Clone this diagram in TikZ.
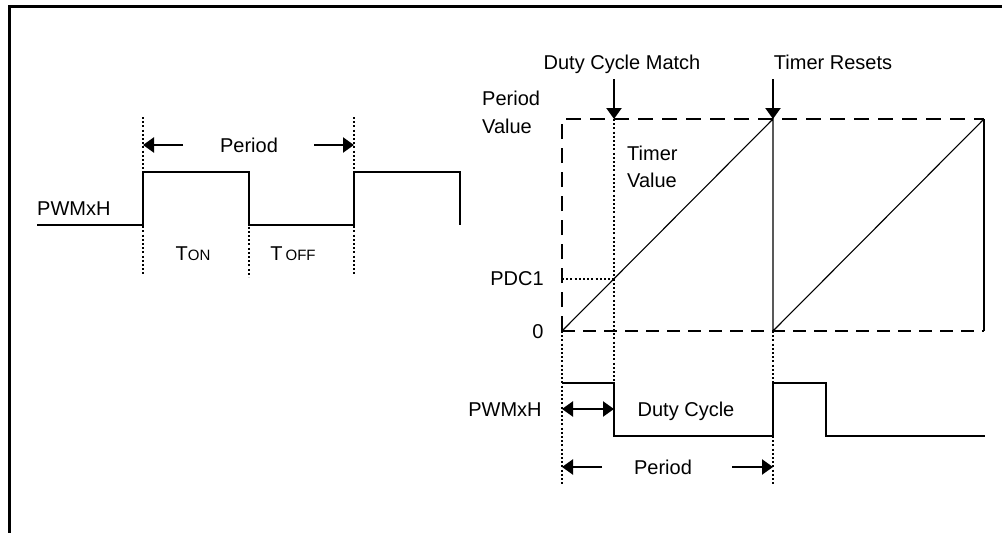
\documentclass[tikz,border=0pt]{standalone}
\usepackage{fontspec}
\setmainfont{Liberation Sans}
\usetikzlibrary{arrows.meta}
\tikzset{
  lbl/.style={font=\fontsize{20}{24}\selectfont, inner sep=0pt, text height=14.5pt, text depth=0pt},
  wave/.style={line width=2.3pt},
  ramp/.style={line width=1.1pt},
  dotline/.style={line width=2.2pt, dash pattern=on 2pt off 2.2pt},
  dashthick/.style={line width=2.4pt, dash pattern=on 15pt off 9pt},
  dashthin/.style={line width=1.5pt, dash pattern=on 13pt off 8pt},
  tipline/.style={line width=2.2pt, -{Triangle[length=11pt,width=15pt]}},
  bothtip/.style={line width=2.2pt, {Triangle[length=11pt,width=15pt]}-{Triangle[length=11pt,width=15pt]}},
}
\begin{document}
\begin{tikzpicture}[x=1pt,y=-1pt]
\useasboundingbox (0,0) rectangle (1002,533);
% frame
\draw[line width=3pt] (1002,6) -- (9,6) -- (9,533);

% ---------- left waveform ----------
\coordinate (a0) at (37,225);
\coordinate (a1) at (143,225);
\coordinate (a2) at (143,172);
\coordinate (a3) at (249,172);
\coordinate (a4) at (249,225);
\coordinate (a5) at (354,225);
\coordinate (a6) at (354,172);
\coordinate (a7) at (460,172);
\coordinate (a8) at (460,225);
\draw[wave] (a0) -- (a1) -- (a2) -- (a3) -- (a4) -- (a5) -- (a6) -- (a7) -- (a8);

\coordinate (d1t) at (143,117); \coordinate (d1b) at (143,276);
\coordinate (d2b) at (249,277);
\coordinate (d3t) at (354,117); \coordinate (d3b) at (354,276);
\draw[dotline] (d1t) -- (d1b);
\draw[dotline] (a3) -- (d2b);
\draw[dotline] (d3t) -- (d3b);

\node[lbl] (perL) at (249,145) {Period};
\coordinate (pl1) at (183,145); \coordinate (pl0) at (143,145);
\coordinate (pr1) at (314,145); \coordinate (pr0) at (354,145);
\draw[tipline] (pl1) -- (pl0);
\draw[tipline] (pr1) -- (pr0);

\node[lbl, anchor=west] (pwmL) at (37,208) {PWMxH};
\node[lbl] (ton) at (193,253) {T{\fontsize{15}{15}\selectfont ON}};
\node[lbl] (toff) at (293,253) {T\hspace{3pt}{\fontsize{15}{15}\selectfont OFF}};

% ---------- right diagram ----------
\coordinate (p0) at (562,331);
\coordinate (pt) at (562,119);
\coordinate (m0) at (614,331);
\coordinate (mt) at (614,119);
\coordinate (r0) at (773,331);
\coordinate (rt) at (773,119);
\coordinate (e0) at (984,331);
\coordinate (et) at (984,119);

\node[lbl] (dcm) at (622,62) {Duty Cycle Match};
\node[lbl] (tres) at (833,62) {Timer Resets};
\coordinate (dcmA) at (614,79);
\coordinate (tresA) at (773,79);
\draw[tipline] (dcmA) -- (mt);
\draw[tipline] (tresA) -- (rt);

\node[lbl, anchor=west] (pv1) at (482,98) {Period};
\node[lbl, anchor=west] (pv2) at (482,126) {Value};
\node[lbl, anchor=west] (tv1) at (627,153) {Timer};
\node[lbl, anchor=west] (tv2) at (627,180) {Value};
\node[lbl] (pdc) at (517,278) {PDC1};
\node[lbl] (zero) at (538,331) {0};

% dashed box
\draw[dashthick] (p0) -- (pt) -- (et);
\draw[dashthin] (p0) -- (e0);
\draw[line width=2.4pt] (et) -- (e0);
% ramps
\draw[ramp] (p0) -- (rt) -- (r0) -- (et);

% PDC1 level
\coordinate (pdcA) at (562,279);
\coordinate (pdcB) at (614,279);
\draw[dotline] (pdcA) -- (pdcB);

% bottom waveform
\coordinate (b0) at (562,383);
\coordinate (b1) at (614,383);
\coordinate (b2) at (614,436);
\coordinate (b3) at (773,436);
\coordinate (b4) at (773,383);
\coordinate (b5) at (826,383);
\coordinate (b6) at (826,436);
\coordinate (b7) at (985,436);
\draw[wave] (b0) -- (b1) -- (b2) -- (b3) -- (b4) -- (b5) -- (b6) -- (b7);

% dotted verticals
\coordinate (v1b) at (562,484);
\coordinate (v3b) at (773,484);
\draw[dotline] (mt) -- (b1);
\draw[dotline] (p0) -- (v1b);
\draw[dotline] (r0) -- (v3b);

\node[lbl] (pwmR) at (505,409) {PWMxH};
\coordinate (dca) at (562,409);
\coordinate (dcb) at (614,409);
\draw[bothtip] (dca) -- (dcb);
\node[lbl] (dc) at (686,409) {Duty Cycle};

\node[lbl] (perR) at (663,467) {Period};
\coordinate (ql1) at (602,467); \coordinate (ql0) at (562,467);
\coordinate (qr1) at (732,467); \coordinate (qr0) at (773,467);
\draw[tipline] (ql1) -- (ql0);
\draw[tipline] (qr1) -- (qr0);
\end{tikzpicture}
\end{document}
